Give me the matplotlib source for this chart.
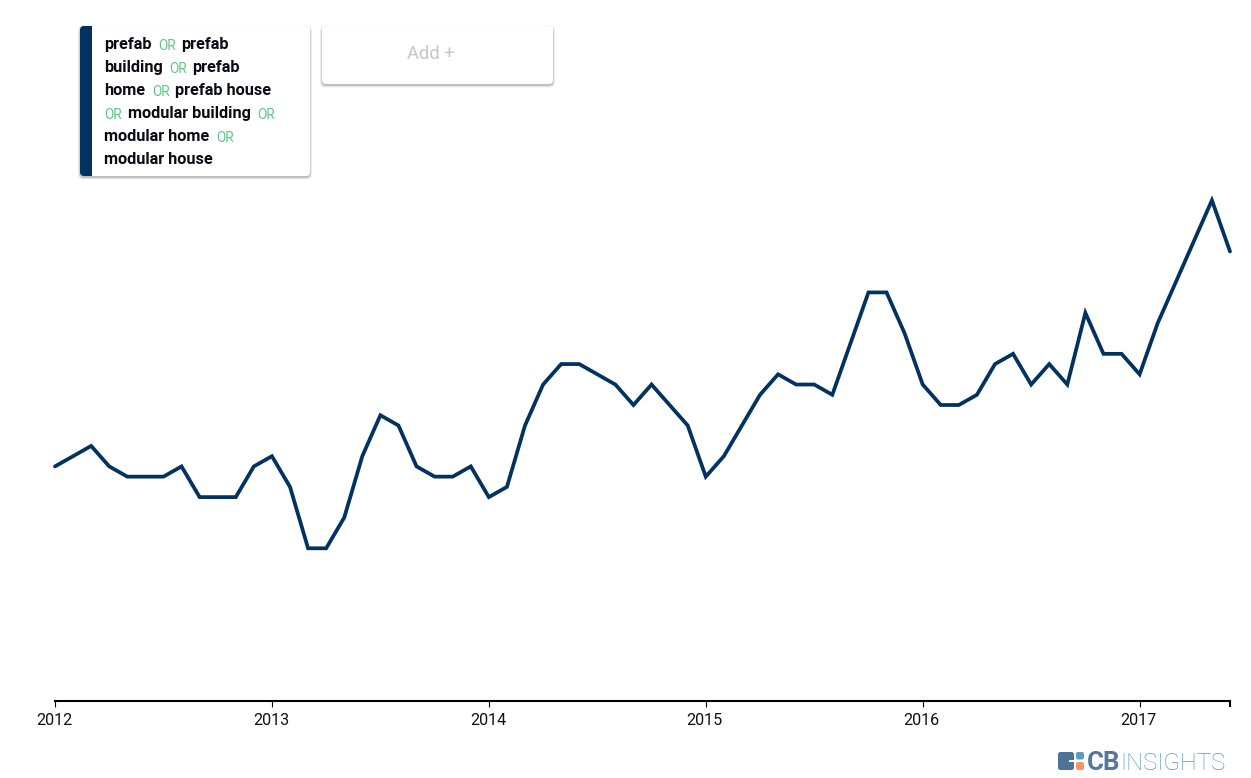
import matplotlib
matplotlib.use("Agg")
import matplotlib.pyplot as plt
from matplotlib.patches import FancyBboxPatch, Rectangle
from matplotlib.transforms import ScaledTranslation

WIDTH, HEIGHT = 1251, 778
NAVY = "#02325f"
GREEN = "#5cc689"

# Monthly search index, Jan 2012 to Jun 2017
values = [23, 24, 25, 23, 22, 22, 22, 23, 20, 20, 20, 23,
          24, 21, 15, 15, 18, 24, 28, 27, 23, 22, 22, 23,
          20, 21, 27, 31, 33, 33, 32, 31, 29, 31, 29, 27,
          22, 24, 27, 30, 32, 31, 31, 30, 35, 40, 40, 36,
          31, 29, 29, 30, 33, 34, 31, 33, 31, 38, 34, 34,
          32, 37, 41, 45, 49, 44]
year_labels = ["2012", "2013", "2014", "2015", "2016", "2017"]

# Query text in the card: (left edge px, baseline px, text, is operator)
query_parts = [
    (104.5, 49, "prefab", False), (158.5, 49.5, "OR", True), (181.5, 49, "prefab", False),
    (104.5, 72, "building", False), (169.5, 72.5, "OR", True), (192.5, 72, "prefab", False),
    (104.5, 95, "home", False), (152.5, 95.5, "OR", True), (175, 95, "prefab house", False),
    (104.5, 118.5, "OR", True), (127.5, 118, "modular building", False), (257.5, 118.5, "OR", True),
    (104.5, 141, "modular home", False), (216.5, 141.5, "OR", True),
    (104.5, 164, "modular house", False),
]


def draw_card(ax, x, y, w, h):
    """White rounded card with a soft drop shadow"""
    for grow, alpha in [(2.0, 0.05), (1.2, 0.08), (0.5, 0.14)]:
        ax.add_patch(FancyBboxPatch((x - grow, y + 1.5 - grow), w + 2 * grow, h + 2 * grow,
                                    boxstyle="round,pad=0,rounding_size=5",
                                    fc="black", ec="none", alpha=alpha, zorder=2))
    card = FancyBboxPatch((x, y), w, h, boxstyle="round,pad=0,rounding_size=4",
                          fc="white", ec="none", zorder=3)
    ax.add_patch(card)
    return card


def draw_chart(fig):
    ax = fig.add_axes([55 / WIDTH, 1 - 701 / HEIGHT, 1175 / WIDTH, 601 / HEIGHT])
    ax.plot(range(len(values)), values, color=NAVY, linewidth=2.7, solid_joinstyle="miter",
            solid_capstyle="round", clip_on=False)
    ax.set_xlim(0, len(values) - 1)
    # zero of the scale sits just under the axis line
    ax.set_ylim(0.08, 0.08 + 601 / 10.235)
    ax.set_yticks([])
    for side in ["top", "left", "right"]:
        ax.spines[side].set_visible(False)
    ax.spines["bottom"].set_linewidth(1.5)
    ax.set_xticks(range(0, len(values), 12))
    ax.set_xticklabels(year_labels, fontfamily="Roboto", fontsize=11.6, color="#111111")
    ax.set_xticks([0, len(values) - 1], minor=True)
    ax.tick_params(axis="x", which="major", length=4.5, width=0.8, pad=4)
    ax.tick_params(axis="x", which="minor", length=4.5, width=1.5)
    # labels sit about a pixel left of the tick
    shift = ScaledTranslation(-1 / 100, 0, fig.dpi_scale_trans)
    for label in ax.get_xticklabels():
        label.set_transform(label.get_transform() + shift)


def draw_overlay(fig):
    ax = fig.add_axes([0, 0, 1, 1], facecolor="none")
    ax.set_xlim(0, WIDTH)
    ax.set_ylim(HEIGHT, 0)
    ax.axis("off")

    # Query card with the series colour bar
    card = draw_card(ax, 80, 26, 230, 150)
    bar = Rectangle((80, 26), 12, 150, fc=NAVY, ec="none", zorder=4)
    bar.set_clip_path(card)
    ax.add_patch(bar)
    for x, y, label, is_or in query_parts:
        if is_or:
            ax.text(x, y, label, fontfamily="Roboto", fontsize=9.8, color=GREEN,
                    va="baseline", ha="left", zorder=5)
        else:
            ax.text(x, y, label, fontfamily="Roboto", fontweight="bold", fontsize=11.7,
                    color="#0a0a14", va="baseline", ha="left", zorder=5)

    draw_card(ax, 322, 26, 231, 58)
    ax.text(431, 54, "Add +", fontfamily="Roboto", fontsize=13.2,
            color="#c6c6c6", va="center", ha="center", zorder=5)

    # CB Insights logo
    ax.add_patch(FancyBboxPatch((1058, 752), 16, 18, boxstyle="round,pad=0,rounding_size=2.5",
                                fc="#4f7299", ec="none"))
    ax.add_patch(Rectangle((1069, 759.5), 7, 2.5, fc="white", ec="none", zorder=3))
    ax.add_patch(FancyBboxPatch((1076, 752), 8, 7.5, boxstyle="round,pad=0,rounding_size=2",
                                fc="#5b9cc0", ec="none"))
    ax.add_patch(FancyBboxPatch((1076, 762), 8, 8, boxstyle="round,pad=0,rounding_size=2",
                                fc="#f5946a", ec="none"))
    ax.text(1087, 770, "CB", fontfamily="Roboto", fontweight="bold", fontsize=18.6,
            color="#54779d", va="baseline", ha="left")
    ax.text(1120, 770, "INSIGHTS", fontfamily="Roboto", fontweight="light", fontsize=17.2,
            color="#4f9cc6", va="baseline", ha="left")


def main():
    fig = plt.figure(figsize=(WIDTH / 100, HEIGHT / 100), dpi=100, facecolor="white")
    draw_chart(fig)
    draw_overlay(fig)
    fig.savefig("out.png", dpi=100)


if __name__ == "__main__":
    main()
